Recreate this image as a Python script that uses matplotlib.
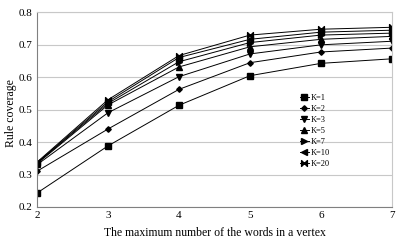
import matplotlib.pyplot as plt
from matplotlib.path import Path

plt.rcParams['font.family'] = ['Liberation Serif', 'DejaVu Serif']

x = [2, 3, 4, 5, 6, 7]
labels = ['K=1', 'K=2', 'K=3', 'K=5', 'K=7', 'K=10', 'K=20']
k1 = [0.243, 0.388, 0.513, 0.604, 0.642, 0.656]
k2 = [0.310, 0.440, 0.562, 0.644, 0.677, 0.689]
k3 = [0.330, 0.490, 0.601, 0.671, 0.699, 0.710]
k5 = [0.333, 0.514, 0.631, 0.693, 0.716, 0.725]
k7 = [0.335, 0.519, 0.647, 0.706, 0.729, 0.735]
k10 = [0.336, 0.524, 0.660, 0.716, 0.738, 0.744]
k20 = [0.338, 0.530, 0.666, 0.729, 0.747, 0.753]
series = [k1, k2, k3, k5, k7, k10, k20]

# bowtie marker for K=20
bowtie = Path([(-1, -1), (0, 0), (-1, 1), (-1, -1), (1, -1), (0, 0), (1, 1), (1, -1)],
              [Path.MOVETO, Path.LINETO, Path.LINETO, Path.CLOSEPOLY,
               Path.MOVETO, Path.LINETO, Path.LINETO, Path.CLOSEPOLY])
markers = ['s', 'D', 'v', '^', '>', '<', bowtie]
sizes = [3.8, 2.8, 3.8, 3.8, 3.8, 3.8, 4.2]

fig = plt.figure(figsize=(3.98, 2.42), dpi=100)
ax = fig.add_axes([37 / 398, 35 / 242, 355 / 398, 195 / 242])

for ys, lab, m, s in zip(series, labels, markers, sizes):
    ax.plot(x, ys, color='black', lw=0.7, marker=m, ms=s, label=lab)

ax.set_xlim(2, 7)
ax.set_ylim(0.2, 0.8)
ax.set_yticks([0.2, 0.3, 0.4, 0.5, 0.6, 0.7, 0.8])
ax.set_yticklabels(['0.2', '0.3', '0.4', '0.5', '0.6', '0.7', '0.8'])
ax.yaxis.grid(True, color='#c8c8c8', lw=0.8)
ax.set_axisbelow(True)
ax.tick_params(length=0, labelsize=8, pad=3)
for sp in ax.spines.values():
    sp.set_color('#c8c8c8')
    sp.set_linewidth(0.8)
ax.spines['left'].set_color('#808080')
ax.spines['bottom'].set_color('#808080')

ax.set_xlabel('The maximum number of the words in a vertex', fontsize=8.5, labelpad=5)
ax.set_ylabel('Rule coverage', fontsize=8.5)
ax.yaxis.set_label_coords(-0.055, 0.48)

ax.legend(loc='upper left', bbox_to_anchor=(0.73, 0.6), frameon=False, fontsize=6,
          handlelength=1.0, handletextpad=0.2, labelspacing=0.35, borderpad=0)

fig.savefig('out.png', dpi=100)
